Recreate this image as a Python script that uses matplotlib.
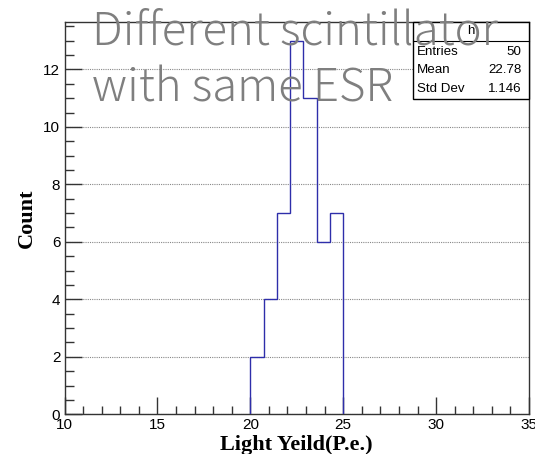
import numpy as np
import matplotlib
matplotlib.use("Agg")
import matplotlib.pyplot as plt
from matplotlib.ticker import MultipleLocator
from matplotlib.patches import Rectangle

# Histogram definition: 35 bins over [10, 35]
x_min, x_max, n_bins = 10.0, 35.0, 35
first_bin = 14                      # first filled bin (starts at 20 P.e.)
counts = [2, 4, 7, 13, 11, 6, 7]    # entries per bin from 20 to 25 P.e.

stat_labels = ["Entries", "Mean", "Std Dev"]
stat_values = ["50", "22.78", "1.146"]
hist_name = "h"

title_lines = ["Different scintillator", "with same ESR"]
x_title = "Light Yeild(P.e.)"
y_title = "Count"

W, H = 535, 454
fig = plt.figure(figsize=(W / 100, H / 100), dpi=100)

def fx(px):
    return px / W

def fy(py):
    return 1 - py / H

ax_l, ax_r, ax_t, ax_b = 64.5, 529.0, 22.0, 414.3
ax = fig.add_axes([fx(ax_l), fy(ax_b), fx(ax_r - ax_l), (ax_b - ax_t) / H])

width = (x_max - x_min) / n_bins
edges = x_min + width * np.arange(first_bin, first_bin + len(counts) + 1)
ax.stairs(counts, edges, baseline=0, color="#2e2eaa", linewidth=1.0, zorder=3)

ax.set_xlim(x_min, x_max)
ax.set_ylim(0, max(counts) * 1.05)

ax.xaxis.set_major_locator(MultipleLocator(5))
ax.xaxis.set_minor_locator(MultipleLocator(1))
ax.yaxis.set_major_locator(MultipleLocator(2))
ax.yaxis.set_minor_locator(MultipleLocator(0.5))

ax.tick_params(which="both", direction="in", top=False, right=False,
               color="#333333", width=1.0)
ax.tick_params(axis="x", which="major", length=12, pad=3)
ax.tick_params(axis="x", which="minor", length=6)
ax.tick_params(axis="y", which="major", length=12, pad=3)
ax.tick_params(axis="y", which="minor", length=6.5)
for lab in ax.get_xticklabels() + ax.get_yticklabels():
    lab.set_fontfamily("Liberation Sans")
    lab.set_fontsize(11)

ax.yaxis.grid(True, which="major", linestyle=(0, (1, 1)), color="#888888",
              linewidth=0.8)
ax.set_axisbelow(True)
for sp in ax.spines.values():
    sp.set_color("#333333")
    sp.set_linewidth(1.0)

fig.text(fx(296.5), fy(445), x_title, family="Liberation Serif",
         weight="bold", fontsize=16, ha="center", va="center")
fig.text(fx(27), fy(218), y_title, family="Liberation Serif",
         weight="bold", fontsize=16, ha="center", va="center", rotation=90)

# Statistics box
bx_l, bx_r, bx_t, bx_b = 412.7, 529.0, 22.3, 99.3
fig.patches.append(Rectangle((fx(bx_l), fy(bx_b)), fx(bx_r - bx_l),
                             (bx_b - bx_t) / H, transform=fig.transFigure,
                             facecolor="white", edgecolor="black",
                             linewidth=1.0, zorder=5))
fig.add_artist(plt.Line2D([fx(bx_l), fx(bx_r)], [fy(41), fy(41)],
                          transform=fig.transFigure, color="black",
                          linewidth=0.8, zorder=6))
fig.text(fx(470.7), fy(31.5), hist_name, family="Liberation Sans",
         fontsize=9.6, ha="center", va="center", zorder=7)
for i, (lab, val) in enumerate(zip(stat_labels, stat_values)):
    yy = [51.7, 70.3, 89.3][i]
    fig.text(fx(417.3), fy(yy), lab, family="Liberation Sans",
             fontsize=9.6, ha="left", va="center", zorder=7)
    fig.text(fx(521.7), fy(yy), val, family="Liberation Sans",
             fontsize=9.6, ha="right", va="center", zorder=7)

# Overlay caption
for line, base in zip(title_lines, [44.3, 101.0]):
    fig.text(fx(92.0), fy(base), line, family=["Noto Sans CJK JP", "DejaVu Sans"],
             weight=300, fontsize=32.8, color="#7f7f7f",
             ha="left", va="baseline", zorder=10)

fig.savefig("out.png", dpi=100)
